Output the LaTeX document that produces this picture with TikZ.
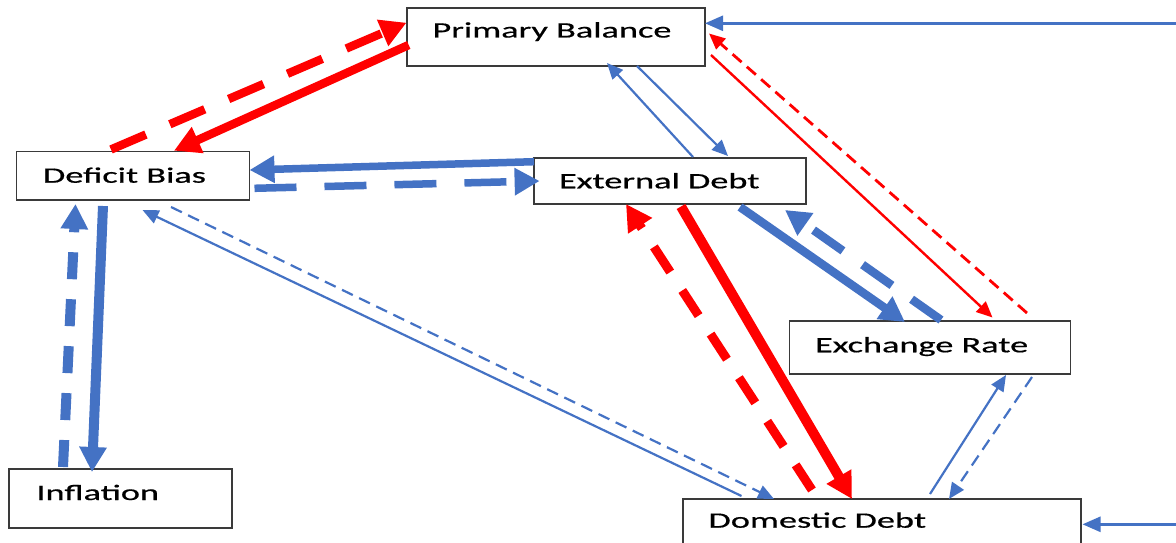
\documentclass[tikz,border=0pt]{standalone}
\usepackage{fontspec}
\setmainfont{Carlito}[FakeStretch=1.65,FakeBold=0.6]
\usetikzlibrary{arrows.meta}
\definecolor{obl}{HTML}{4472C4}
\definecolor{ored}{HTML}{FF0000}
\definecolor{edgec}{HTML}{3A3A3A}
\begin{document}
\begin{tikzpicture}[x=1pt,y=-1pt,
  box/.style={draw=edgec,line width=1.4pt,fill=white,rectangle,inner sep=0pt,outer sep=0pt,anchor=north west},
  lbl/.style={inner sep=0pt,outer sep=0pt,anchor=base west,text=black,font=\fontsize{22}{26}\selectfont},
  thkr/.style={draw=ored,line width=8.5pt,-{Triangle[length=26pt,width=27pt]}},
  thkb/.style={draw=obl,line width=8.5pt,-{Triangle[length=25pt,width=26pt]}},
  thnb/.style={draw=obl,line width=2.2pt,-{Triangle[length=16pt,width=14pt]}},
  thnr/.style={draw=ored,line width=2.4pt,-{Triangle[length=16pt,width=14pt]}},
  inb/.style={draw=obl,line width=2.6pt,-{Triangle[length=18pt,width=15pt]}},
  thindash/.style={dash pattern=on 12pt off 7pt}]
\path[use as bounding box] (0,0) rectangle (1176,543);
\clip (0,0) rectangle (1176,543);
% boxes
\node[box,minimum width=298pt,minimum height=58pt] (pb) at (407,8) {};
\node[box,minimum width=233pt,minimum height=48.5pt] (db) at (16.5,151.5) {};
\node[box,minimum width=272pt,minimum height=46pt] (ed) at (534,158) {};
\node[box,minimum width=281pt,minimum height=53pt] (er) at (789.5,321) {};
\node[box,minimum width=223pt,minimum height=59pt] (inf) at (9,469) {};
\node[box,minimum width=398pt,minimum height=70pt] (dd) at (683,499) {};
% labels
\node[lbl] (pbt) at (432.5,37.5) {Primary Balance};
\node[lbl] (dbt) at (43,182.7) {Deficit Bias};
\node[lbl] (edt) at (559,188.3) {External Debt};
\node[lbl] (ert) at (815,352.3) {Exchange Rate};
\node[lbl] (inft) at (36.4,500) {Inflation};
\node[lbl] (ddt) at (708.5,527.7) {Domestic Debt};
% free ends
\coordinate (inPB) at (1176,23.3);
\coordinate (inDD) at (1176,524.3);
% Primary Balance <-> Deficit Bias
\draw[thkr,dash pattern=on 38pt off 26pt] ([shift={(94.5,-2)}]db.north west) -- ([shift={(-0.5,14.7)}]pb.north west);
\draw[thkr] ([shift={(1.7,37)}]pb.north west) -- ([shift={(157.5,-0.8)}]db.north west);
% External Debt <-> Deficit Bias
\draw[thkb,line width=7.5pt] ([shift={(0,3.7)}]ed.north west) -- ([shift={(233,18.5)}]db.north west);
\draw[thkb,line width=7.5pt,dash pattern=on 42pt off 28pt] ([shift={(238,36.8)}]db.north west) -- ([shift={(5.6,23)}]ed.north west);
% Deficit Bias <-> Inflation
\draw[thkb,line width=10pt] ([shift={(86.5,54.5)}]db.north west) -- ([shift={(83,3)}]inf.north west);
\draw[thkb,line width=10pt,dash pattern=on 27pt off 20pt] ([shift={(54,-2)}]inf.north west) -- ([shift={(59,52.5)}]db.north west);
% Domestic Debt <-> Deficit Bias
\draw[thnb] ([shift={(58.5,-3)}]dd.north west) -- ([shift={(126,58.5)}]db.north west);
\draw[thnb,thindash] ([shift={(154.5,55.5)}]db.north west) -- ([shift={(91,0)}]dd.north west);
% External Debt <-> Primary Balance
\draw[thnb] ([shift={(159,-1)}]ed.north west) -- ([shift={(200,55)}]pb.north west);
\draw[thnb] ([shift={(230,58)}]pb.north west) -- ([shift={(194,-2)}]ed.north west);
% Primary Balance <-> Exchange Rate
\draw[thnr] ([shift={(304,47)}]pb.north west) -- ([shift={(203,-3.5)}]er.north west);
\draw[thnr,line width=2.8pt,thindash] ([shift={(237.5,-8)}]er.north west) -- ([shift={(302,25.5)}]pb.north west);
% External Debt <-> Exchange Rate
\draw[thkb] ([shift={(206,49)}]ed.north west) -- ([shift={(115.5,1)}]er.north west);
\draw[thkb,dash pattern=on 36pt off 24pt] ([shift={(151.5,-1)}]er.north west) -- ([shift={(251,52)}]ed.north west);
% External Debt <-> Domestic Debt
\draw[thkr,line width=10pt] ([shift={(147,48.5)}]ed.north west) -- ([shift={(169,0)}]dd.north west);
\draw[thkr,line width=9pt,dash pattern=on 30pt off 22pt] ([shift={(129,-9)}]dd.north west) -- ([shift={(92,46)}]ed.north west);
% Domestic Debt <-> Exchange Rate
\draw[thnb] ([shift={(247,-5)}]dd.north west) -- ([shift={(216.5,54)}]er.north west);
\draw[thnb,thindash] ([shift={(242.5,56)}]er.north west) -- ([shift={(266,0)}]dd.north west);
% external inputs
\draw[inb] (inPB) -- ([shift={(298,15.3)}]pb.north west);
\draw[inb] (inDD) -- ([shift={(399.5,25.3)}]dd.north west);
\end{tikzpicture}
\end{document}
